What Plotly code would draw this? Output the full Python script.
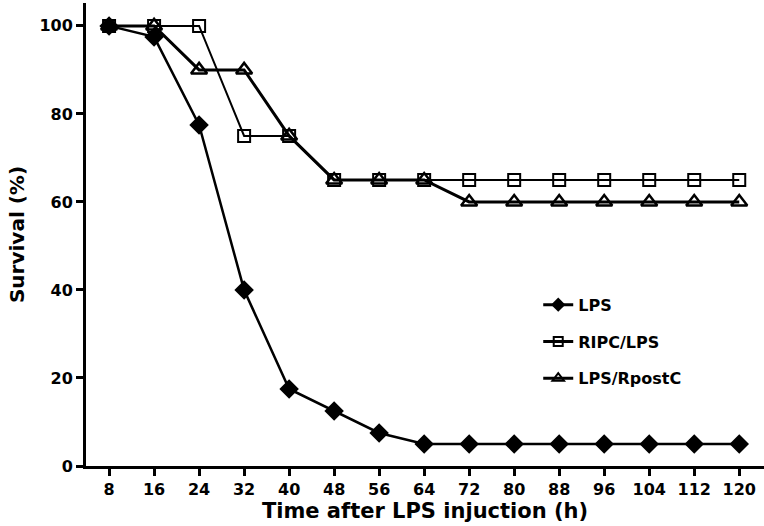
import plotly.graph_objects as go

hours = [8, 16, 24, 32, 40, 48, 56, 64, 72, 80, 88, 96, 104, 112, 120]
lps = [100, 97.5, 77.5, 40, 17.5, 12.5, 7.5, 5, 5, 5, 5, 5, 5, 5, 5]
ripc_lps = [100, 100, 100, 75, 75, 65, 65, 65, 65, 65, 65, 65, 65, 65, 65]
lps_rpostc = [100, 100, 90, 90, 75, 65, 65, 65, 60, 60, 60, 60, 60, 60, 60]
y_ticks = [0, 20, 40, 60, 80, 100]
names = ["LPS", "RIPC/LPS", "LPS/RpostC"]

FONT = "DejaVu Sans"

styles = [
    dict(line=dict(color="black", width=2.5), symbol="diamond", size=15, lw=0, lsize=11),
    dict(line=dict(color="black", width=2), symbol="square-open", size=12, lw=2, lsize=9),
    dict(line=dict(color="black", width=3), symbol="triangle-up-open", size=14, lw=2.5, lsize=10),
]
series = [lps, ripc_lps, lps_rpostc]

fig = go.Figure()
for name, ys, st in zip(names, series, styles):
    fig.add_trace(go.Scatter(
        x=hours, y=ys, mode="lines+markers", showlegend=False,
        line=st["line"],
        marker=dict(symbol=st["symbol"], size=st["size"], color="black",
                    line=dict(width=st["lw"], color="black"))))
for i, (name, st) in enumerate(zip(names, styles)):
    fig.add_trace(go.Scatter(
        x=[None], y=[None], mode="lines+markers", name=f"<b>{name}</b>",
        legendgroup=str(i), line=dict(color="black", width=3),
        marker=dict(symbol=st["symbol"], size=st["lsize"], color="black",
                    line=dict(width=2 if st["lw"] else 0, color="black"))))

fig.update_layout(
    width=764, height=526,
    margin=dict(l=86, r=0, t=3, b=60),
    paper_bgcolor="white", plot_bgcolor="white",
    font=dict(family=FONT, color="black"),
    legend=dict(x=0.667, y=0.385, xanchor="left", yanchor="top",
                font=dict(size=16, family=FONT, color="black"),
                itemwidth=30, tracegroupgap=13, bgcolor="rgba(0,0,0,0)"),
    xaxis=dict(range=[3.9, 124.4], tickmode="array", tickvals=hours,
               ticktext=[f"<b>{h}</b>" for h in hours],
               tickfont=dict(size=16, family=FONT),
               showline=True, linecolor="black", linewidth=3,
               ticks="outside", ticklen=7, tickwidth=2.5, tickcolor="black",
               showgrid=False, zeroline=False,
               title=dict(text="<b>Time after LPS injuction (h)</b>",
                          font=dict(size=21, family=FONT), standoff=6)),
    yaxis=dict(range=[0, 105.2], tickmode="array", tickvals=y_ticks,
               ticktext=[f"<b>{v}</b>" for v in y_ticks],
               tickfont=dict(size=16, family=FONT),
               showline=True, linecolor="black", linewidth=3,
               ticks="outside", ticklen=7, tickwidth=2.5, tickcolor="black",
               showgrid=False, zeroline=False,
               title=dict(text="<b>Survival (%)</b>",
                          font=dict(size=20, family=FONT), standoff=10)),
)

fig.write_html("out.html")
